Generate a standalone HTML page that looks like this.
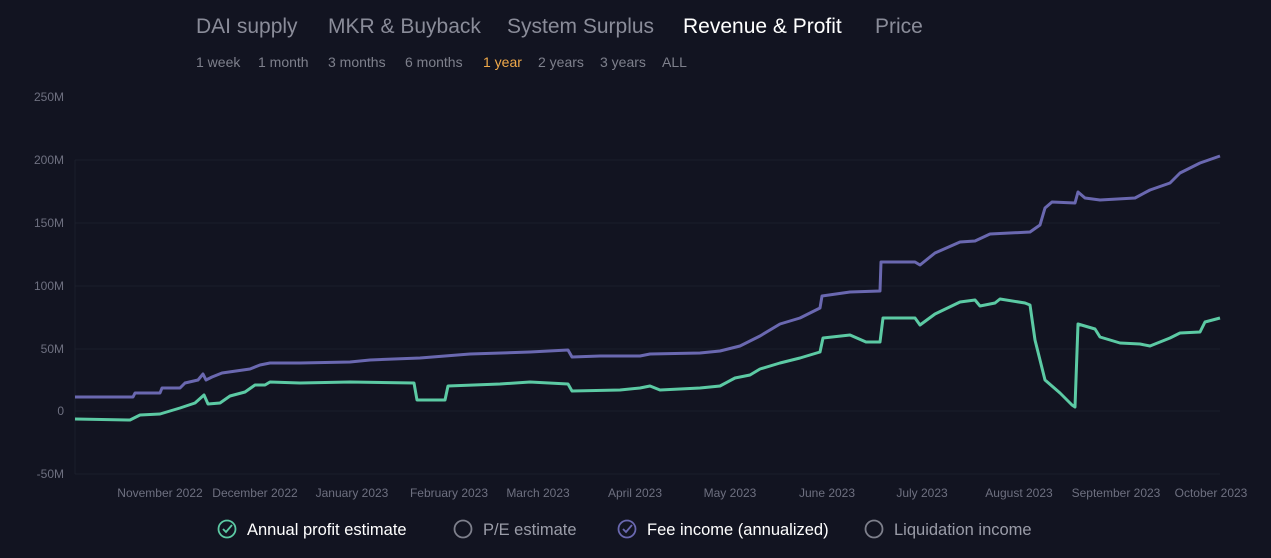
<!DOCTYPE html>
<html><head><style>
body{margin:0;background:#121421;width:1271px;height:558px;overflow:hidden;font-family:"Liberation Sans",sans-serif;}
</style></head><body>
<svg width="1271" height="558" xmlns="http://www.w3.org/2000/svg" style="position:absolute;left:0;top:0">
<rect width="1271" height="558" fill="#121421"/>
<g font-size="21" fill="#8a8c99">
<text x="196" y="33">DAI supply</text>
<text x="328" y="33">MKR &amp; Buyback</text>
<text x="507" y="33">System Surplus</text>
<text x="683" y="33" fill="#ffffff">Revenue &amp; Profit</text>
<text x="875" y="33">Price</text>
</g>
<g font-size="14" fill="#7e808c">
<text x="196" y="67">1 week</text>
<text x="258" y="67">1 month</text>
<text x="328" y="67">3 months</text>
<text x="405" y="67">6 months</text>
<text x="483" y="67" fill="#f0a94a">1 year</text>
<text x="538" y="67">2 years</text>
<text x="600" y="67">3 years</text>
<text x="662" y="67">ALL</text>
</g>
<g stroke="#1b1e2c" stroke-width="1">
<line x1="75" y1="160" x2="1220" y2="160"/><line x1="75" y1="223" x2="1220" y2="223"/>
<line x1="75" y1="286" x2="1220" y2="286"/><line x1="75" y1="349" x2="1220" y2="349"/>
<line x1="75" y1="411" x2="1220" y2="411"/><line x1="75" y1="474" x2="1220" y2="474"/>
<line x1="75" y1="160" x2="75" y2="474"/>
</g>
<g font-size="12" fill="#6e7080" text-anchor="end">
<text x="64" y="101">250M</text><text x="64" y="164">200M</text><text x="64" y="227">150M</text>
<text x="64" y="290">100M</text><text x="64" y="353">50M</text><text x="64" y="415">0</text><text x="64" y="478">-50M</text>
</g>
<g font-size="12" fill="#6e7080" text-anchor="middle">
<text x="160" y="497">November 2022</text><text x="255" y="497">December 2022</text>
<text x="352" y="497">January 2023</text><text x="449" y="497">February 2023</text>
<text x="538" y="497">March 2023</text><text x="635" y="497">April 2023</text>
<text x="730" y="497">May 2023</text><text x="827" y="497">June 2023</text>
<text x="922" y="497">July 2023</text><text x="1019" y="497">August 2023</text>
<text x="1116" y="497">September 2023</text><text x="1211" y="497">October 2023</text>
</g>
<polyline fill="none" stroke="#6a68b0" stroke-width="3" stroke-linejoin="round" points="75,397 133,397 135,393 160,393 162,388 180,388 185,383 198,380 203,374 206,380 212,377 222,373 250,369 260,365 270,363 300,363 350,362 370,360 420,358 470,354 530,352 568,350 572,357 600,356 640,356 650,354 700,353 720,351 740,346 760,336 780,324 800,318 820,308 822,296 850,292 880,291 881,262 915,262 920,265 935,253 960,242 975,241 990,234 1030,232 1040,225 1045,208 1052,202 1075,203 1078,192 1085,198 1100,200 1135,198 1150,190 1170,183 1180,173 1200,163 1220,156"/>
<polyline fill="none" stroke="#5ccaa4" stroke-width="3" stroke-linejoin="round" points="75,419 130,420 140,415 160,414 180,408 195,403 204,395 208,404 220,403 230,396 245,392 255,385 265,385 270,382 300,383 350,382 414,383 417,400 445,400 448,386 500,384 530,382 568,384 572,391 620,390 640,388 650,386 660,390 700,388 720,386 735,378 750,375 760,369 780,363 800,358 820,352 823,338 850,335 866,342 880,342 883,318 915,318 920,325 935,314 960,302 975,300 980,306 995,303 1000,299 1025,303 1030,305 1035,340 1045,380 1060,393 1072,405 1075,407 1078,324 1095,329 1100,337 1120,343 1140,344 1150,346 1170,338 1180,333 1200,332 1205,322 1220,318"/>
<g font-size="16.5">
<circle cx="227" cy="529" r="8.5" fill="none" stroke="#5ccaa4" stroke-width="1.8"/>
<path d="M223,529 l3,3 l6,-7" fill="none" stroke="#5ccaa4" stroke-width="1.8"/>
<text x="247" y="535" fill="#ffffff">Annual profit estimate</text>
<circle cx="463" cy="529" r="8.5" fill="none" stroke="#7e808c" stroke-width="1.8"/>
<text x="483" y="535" fill="#9a9ca8">P/E estimate</text>
<circle cx="627" cy="529" r="8.5" fill="none" stroke="#6a68b0" stroke-width="1.8"/>
<path d="M623,529 l3,3 l6,-7" fill="none" stroke="#6a68b0" stroke-width="1.8"/>
<text x="647" y="535" fill="#ffffff">Fee income (annualized)</text>
<circle cx="874" cy="529" r="8.5" fill="none" stroke="#7e808c" stroke-width="1.8"/>
<text x="894" y="535" fill="#9a9ca8">Liquidation income</text>
</g>
</svg>
</body></html>
